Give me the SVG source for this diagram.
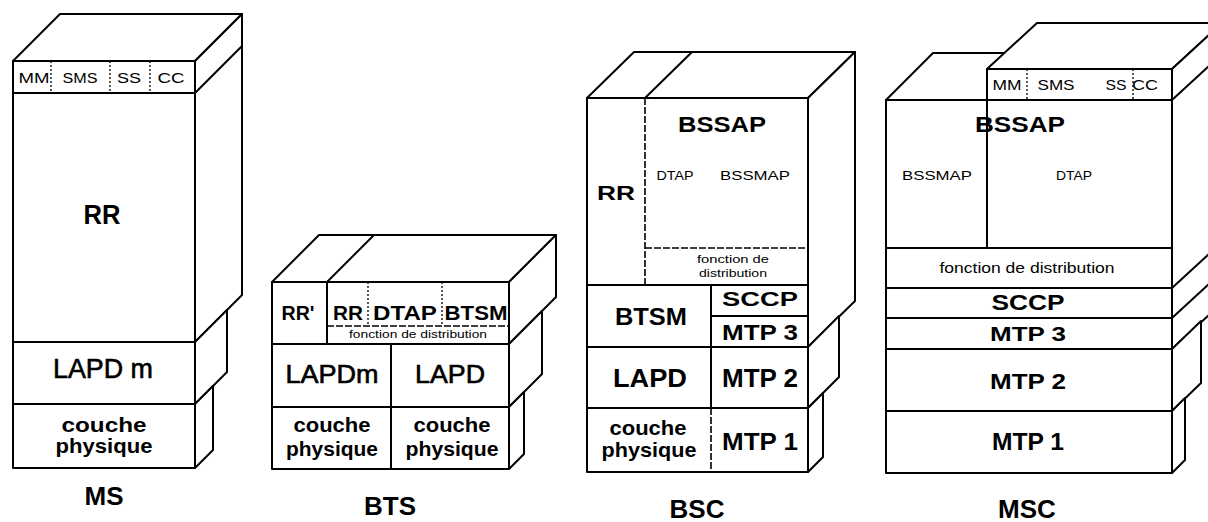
<svg xmlns="http://www.w3.org/2000/svg" width="1208" height="522" viewBox="0 0 1208 522">
<style>
.f{fill:#fff;stroke:#000;stroke-width:2;stroke-linejoin:round}
.l{stroke:#000;stroke-width:2;fill:none}
.d{stroke:#000;stroke-width:1.3;stroke-dasharray:2 2;fill:none}
.ds{stroke:#000;stroke-width:1.6;stroke-dasharray:7 2;fill:none}
.t{font-family:"Liberation Sans",Arial,sans-serif;text-anchor:middle;fill:#000}
.b{font-weight:bold}
.m{stroke:#000;stroke-width:0.6}
</style>
<rect width="1208" height="522" fill="#fff"/>

<g id="ms">
  <g id="ms-rr">
    <rect class="f" x="13" y="61" width="182" height="281"/>
    <polygon class="f" points="13,61 60,14 242,14 195,61"/>
    <polygon class="f" points="195,61 242,14 242,295 195,342"/>
    <line class="l" x1="13" y1="93" x2="195" y2="93"/>
    <line class="l" x1="195" y1="93" x2="242" y2="46"/>
    <line class="d" x1="51" y1="61" x2="51" y2="93"/>
    <line class="d" x1="110" y1="61" x2="110" y2="93"/>
    <line class="d" x1="150" y1="61" x2="150" y2="93"/>
    <text class="t" x="34" y="83" font-size="14" textLength="31" lengthAdjust="spacingAndGlyphs">MM</text>
    <text class="t" x="80" y="83" font-size="14" textLength="35" lengthAdjust="spacingAndGlyphs">SMS</text>
    <text class="t" x="129" y="83" font-size="14" textLength="24" lengthAdjust="spacingAndGlyphs">SS</text>
    <text class="t" x="171" y="83" font-size="14" textLength="27" lengthAdjust="spacingAndGlyphs">CC</text>
    <text class="t b" x="102" y="224" font-size="27" textLength="37" lengthAdjust="spacingAndGlyphs">RR</text>
  </g>
  <g id="ms-lapdm">
    <rect class="f" x="13" y="342" width="182" height="62"/>
    <polygon class="f" points="195,342 227,310 227,372 195,404"/>
    <text class="t m" x="103" y="378" font-size="27" textLength="100" lengthAdjust="spacingAndGlyphs">LAPD m</text>
  </g>
  <g id="ms-phys">
    <rect class="f" x="13" y="404" width="182" height="64"/>
    <polygon class="f" points="195,404 213,386 213,450 195,468"/>
    <text class="t b" x="104" y="432" font-size="21" textLength="85" lengthAdjust="spacingAndGlyphs">couche</text>
    <text class="t b" x="104" y="453" font-size="21" textLength="97" lengthAdjust="spacingAndGlyphs">physique</text>
  </g>
  <text class="t b" x="104" y="505" font-size="26">MS</text>
</g>

<g id="bts">
  <g id="bts-upper">
    <rect class="f" x="272" y="282" width="237" height="62"/>
    <polygon class="f" points="272,282 319,235 556,235 509,282"/>
    <polygon class="f" points="509,282 556,235 556,297 509,344"/>
    <line class="l" x1="327" y1="282" x2="374" y2="235"/>
    <line class="l" x1="327" y1="282" x2="327" y2="344"/>
    <line class="ds" x1="327" y1="326" x2="509" y2="326"/>
    <line class="d" x1="368" y1="282" x2="368" y2="326"/>
    <line class="d" x1="442" y1="282" x2="442" y2="326"/>
    <text class="t b" x="298" y="320" font-size="20" textLength="33" lengthAdjust="spacingAndGlyphs">RR'</text>
    <text class="t b" x="348" y="320" font-size="20" textLength="30" lengthAdjust="spacingAndGlyphs">RR</text>
    <text class="t b" x="405" y="320" font-size="20" textLength="64" lengthAdjust="spacingAndGlyphs">DTAP</text>
    <text class="t b" x="476" y="320" font-size="20" textLength="63" lengthAdjust="spacingAndGlyphs">BTSM</text>
    <text class="t" x="418" y="338" font-size="10" textLength="138" lengthAdjust="spacingAndGlyphs">fonction de distribution</text>
  </g>
  <g id="bts-lapd">
    <rect class="f" x="272" y="344" width="237" height="63"/>
    <polygon class="f" points="509,344 542,311 542,374 509,407"/>
    <line class="l" x1="391" y1="344" x2="391" y2="407"/>
    <text class="t m" x="332" y="383" font-size="25" textLength="93" lengthAdjust="spacingAndGlyphs">LAPDm</text>
    <text class="t m" x="450" y="383" font-size="25" textLength="70" lengthAdjust="spacingAndGlyphs">LAPD</text>
  </g>
  <g id="bts-phys">
    <rect class="f" x="272" y="407" width="237" height="62"/>
    <polygon class="f" points="509,407 524,392 524,454 509,469"/>
    <line class="l" x1="391" y1="407" x2="391" y2="469"/>
    <text class="t b" x="332" y="432" font-size="21" textLength="77" lengthAdjust="spacingAndGlyphs">couche</text>
    <text class="t b" x="332" y="456" font-size="21" textLength="92" lengthAdjust="spacingAndGlyphs">physique</text>
    <text class="t b" x="452" y="432" font-size="21" textLength="77" lengthAdjust="spacingAndGlyphs">couche</text>
    <text class="t b" x="452" y="456" font-size="21" textLength="93" lengthAdjust="spacingAndGlyphs">physique</text>
  </g>
  <text class="t b" x="390" y="515" font-size="26">BTS</text>
</g>

<g id="bsc">
  <g id="bsc-upper">
    <rect class="f" x="587" y="98" width="221" height="249"/>
    <polygon class="f" points="587,98 634,52 855,52 808,98"/>
    <polygon class="f" points="808,98 855,52 855,301 808,347"/>
    <line class="l" x1="645" y1="98" x2="692" y2="52"/>
    <line class="ds" x1="645" y1="98" x2="645" y2="285"/>
    <line class="ds" x1="645" y1="248" x2="808" y2="248"/>
    <line class="l" x1="587" y1="285" x2="808" y2="285"/>
    <line class="l" x1="711" y1="285" x2="711" y2="347"/>
    <line class="l" x1="711" y1="316" x2="808" y2="316"/>
    <text class="t b" x="616" y="200" font-size="21" textLength="38" lengthAdjust="spacingAndGlyphs">RR</text>
    <text class="t b" x="722" y="132" font-size="22" textLength="88" lengthAdjust="spacingAndGlyphs">BSSAP</text>
    <text class="t" x="675" y="180" font-size="13" textLength="37" lengthAdjust="spacingAndGlyphs">DTAP</text>
    <text class="t" x="755" y="180" font-size="13" textLength="70" lengthAdjust="spacingAndGlyphs">BSSMAP</text>
    <text class="t" x="733" y="263" font-size="11" textLength="72" lengthAdjust="spacingAndGlyphs">fonction de</text>
    <text class="t" x="733" y="277" font-size="11" textLength="68" lengthAdjust="spacingAndGlyphs">distribution</text>
    <text class="t b" x="651" y="325" font-size="23" textLength="72" lengthAdjust="spacingAndGlyphs">BTSM</text>
    <text class="t b" x="760" y="306" font-size="21" textLength="76" lengthAdjust="spacingAndGlyphs">SCCP</text>
    <text class="t b" x="760" y="340" font-size="22" textLength="76" lengthAdjust="spacingAndGlyphs">MTP 3</text>
  </g>
  <g id="bsc-lapd">
    <rect class="f" x="587" y="347" width="221" height="61"/>
    <polygon class="f" points="808,347 839,316 839,377 808,408"/>
    <line class="l" x1="711" y1="347" x2="711" y2="408"/>
    <text class="t b" x="650" y="387" font-size="25" textLength="74" lengthAdjust="spacingAndGlyphs">LAPD</text>
    <text class="t b" x="760" y="387" font-size="25" textLength="76" lengthAdjust="spacingAndGlyphs">MTP 2</text>
  </g>
  <g id="bsc-phys">
    <rect class="f" x="587" y="408" width="221" height="64"/>
    <polygon class="f" points="808,408 823,393 823,457 808,472"/>
    <line class="ds" x1="711" y1="408" x2="711" y2="472"/>
    <text class="t b" x="648" y="435" font-size="21" textLength="77" lengthAdjust="spacingAndGlyphs">couche</text>
    <text class="t b" x="649" y="457" font-size="21" textLength="95" lengthAdjust="spacingAndGlyphs">physique</text>
    <text class="t b" x="760" y="450" font-size="24" textLength="76" lengthAdjust="spacingAndGlyphs">MTP 1</text>
  </g>
  <text class="t b" x="697" y="518" font-size="26">BSC</text>
</g>

<g id="msc">
  <g id="msc-upper">
    <polygon class="f" points="886,100 933,53 1034,53 987,100"/>
    <polygon class="f" points="886,100 987,100 987,69 1172,69 1172,349 886,349"/>
    <polygon class="f" points="987,69 1037,23 1222,23 1172,69"/>
    <polygon class="f" points="1172,69 1222,23 1222,303 1172,349"/>
    <line class="l" x1="1172" y1="100" x2="1222" y2="54"/>
    <line class="l" x1="1172" y1="288" x2="1222" y2="242"/>
    <line class="l" x1="1172" y1="318" x2="1222" y2="272"/>
    <line class="l" x1="987" y1="100" x2="1172" y2="100"/>
    <line class="l" x1="987" y1="100" x2="987" y2="248"/>
    <line class="l" x1="886" y1="248" x2="1172" y2="248"/>
    <line class="l" x1="886" y1="288" x2="1172" y2="288"/>
    <line class="l" x1="886" y1="318" x2="1172" y2="318"/>
    <line class="d" x1="1027" y1="69" x2="1027" y2="100"/>
    <line class="d" x1="1133" y1="69" x2="1133" y2="100"/>
    <text class="t" x="1007" y="90" font-size="14" textLength="29" lengthAdjust="spacingAndGlyphs">MM</text>
    <text class="t" x="1056" y="90" font-size="14" textLength="37" lengthAdjust="spacingAndGlyphs">SMS</text>
    <text class="t" x="1116" y="90" font-size="14" textLength="21" lengthAdjust="spacingAndGlyphs">SS</text>
    <text class="t" x="1145" y="90" font-size="14" textLength="26" lengthAdjust="spacingAndGlyphs">CC</text>
    <text class="t b" x="1020" y="132" font-size="22" textLength="90" lengthAdjust="spacingAndGlyphs">BSSAP</text>
    <text class="t" x="937" y="180" font-size="13" textLength="70" lengthAdjust="spacingAndGlyphs">BSSMAP</text>
    <text class="t" x="1074" y="180" font-size="13" textLength="36" lengthAdjust="spacingAndGlyphs">DTAP</text>
    <text class="t" x="1027" y="273" font-size="15" textLength="175" lengthAdjust="spacingAndGlyphs">fonction de distribution</text>
    <text class="t b" x="1028" y="310" font-size="22" textLength="73" lengthAdjust="spacingAndGlyphs">SCCP</text>
    <text class="t b" x="1028" y="341" font-size="21" textLength="76" lengthAdjust="spacingAndGlyphs">MTP 3</text>
  </g>
  <g id="msc-mtp2">
    <rect class="f" x="886" y="349" width="286" height="62"/>
    <polygon class="f" points="1172,349 1201,321 1201,383 1172,411"/>
    <text class="t b" x="1028" y="389" font-size="22" textLength="76" lengthAdjust="spacingAndGlyphs">MTP 2</text>
  </g>
  <g id="msc-mtp1">
    <rect class="f" x="886" y="411" width="286" height="62"/>
    <polygon class="f" points="1172,411 1185,398 1185,460 1172,473"/>
    <text class="t b" x="1028" y="450" font-size="23" textLength="72" lengthAdjust="spacingAndGlyphs">MTP 1</text>
  </g>
  <text class="t b" x="1027" y="518" font-size="26">MSC</text>
</g>
</svg>
